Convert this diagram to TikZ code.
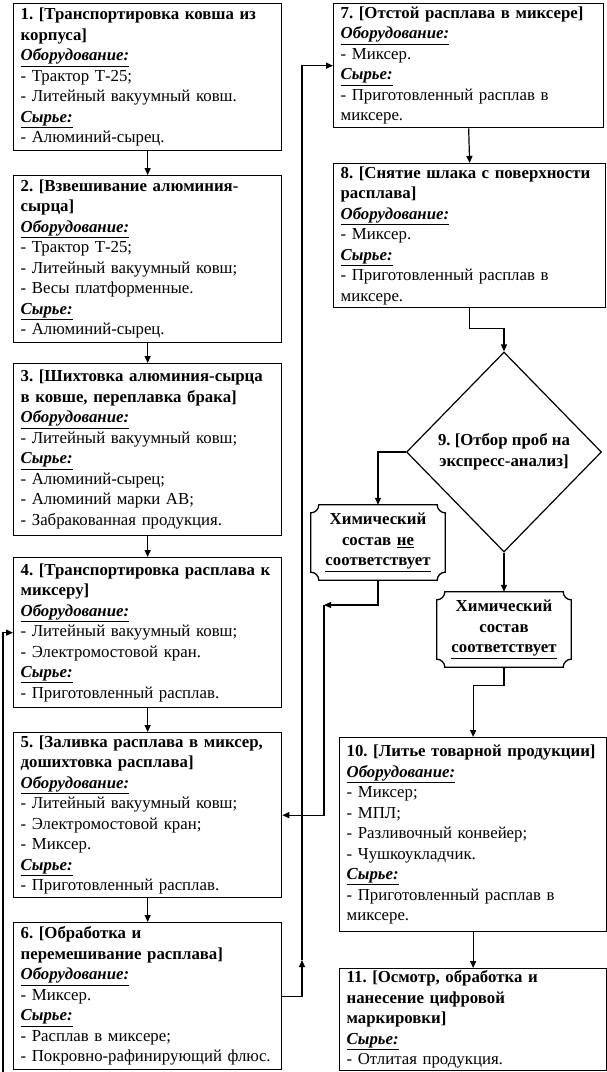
\documentclass[tikz,border=0pt]{standalone}
\usepackage{fontspec}
\setmainfont{Liberation Serif}
\usetikzlibrary{arrows.meta,shapes.geometric,calc}
\frenchspacing
\newcommand{\eqp}{\underline{\textbf{\textit{Оборудование:}}}}
\newcommand{\rawm}{\underline{\textbf{\textit{Сырье:}}}}
\newcommand{\plaqueframe}[1]{\draw[line width=1.3pt] ([xshift=8pt]#1.north west) -- ([xshift=-8pt]#1.north east) arc[start angle=180,end angle=270,radius=8pt] -- ([yshift=8pt]#1.south east) arc[start angle=90,end angle=180,radius=8pt] -- ([xshift=8pt]#1.south west) arc[start angle=0,end angle=90,radius=8pt] -- ([yshift=-8pt]#1.north west) arc[start angle=270,end angle=360,radius=8pt] -- cycle;}
\begin{document}
\begin{tikzpicture}[x=1pt,y=1pt,
  txt/.style={font=\frenchspacing\fontsize{16.8}{20.5}\selectfont},
  box/.style={txt, draw, line width=1.3pt, anchor=north west, align=left, inner xsep=7pt, inner ysep=0pt},
  plq/.style={font=\frenchspacing\bfseries\fontsize{16.8}{20.5}\selectfont, align=center, inner sep=0pt, text width=130pt, minimum width=134pt, minimum height=75pt},
  arr/.style={line width=1.2pt, -{Triangle[length=7pt,width=6pt]}}]
\useasboundingbox (0,0) rectangle (607,-1072);

\node[box, text width=254pt, minimum height=147pt] (b1) at (13,-3) {\textbf{1. [Транспортировка ковша из}\\ \textbf{корпуса]}\\ \eqp\\ - Трактор Т-25;\\ - Литейный вакуумный ковш.\\ \rawm\\ - Алюминий-сырец.};
\node[box, text width=254pt, minimum height=167pt] (b2) at (13,-175) {\textbf{2. [Взвешивание алюминия-}\\ \textbf{сырца]}\\ \eqp\\ - Трактор Т-25;\\ - Литейный вакуумный ковш;\\ - Весы платформенные.\\ \rawm\\ - Алюминий-сырец.};
\node[box, text width=254pt, minimum height=172pt] (b3) at (13,-363) {\textbf{3. [Шихтовка алюминия-сырца}\\ \textbf{в ковше, переплавка брака]}\\ \eqp\\ - Литейный вакуумный ковш;\\ \rawm\\ - Алюминий-сырец;\\ - Алюминий марки АВ;\\ - Забракованная продукция.};
\node[box, text width=254pt, minimum height=150pt] (b4) at (13,-557) {\textbf{4. [Транспортировка расплава к}\\ \textbf{миксеру]}\\ \eqp\\ - Литейный вакуумный ковш;\\ - Электромостовой кран.\\ \rawm\\ - Приготовленный расплав.};
\node[box, text width=254pt, minimum height=165pt] (b5) at (13,-732) {\textbf{5. [Заливка расплава в миксер,}\\ \textbf{дошихтовка расплава]}\\ \eqp\\ - Литейный вакуумный ковш;\\ - Электромостовой кран;\\ - Миксер.\\ \rawm\\ - Приготовленный расплав.};
\node[box, text width=254pt, minimum height=147pt] (b6) at (13,-922) {\textbf{6. [Обработка и}\\ \textbf{перемешивание расплава]}\\ \eqp\\ - Миксер.\\ \rawm\\ - Расплав в миксере;\\ - Покровно-рафинирующий флюс.};

\node[box, text width=256pt, minimum height=124pt] (b7) at (333,-3) {\textbf{7. [Отстой расплава в миксере]}\\ \eqp\\ - Миксер.\\ \rawm\\ - Приготовленный расплав в\\ миксере.};
\node[box, text width=258pt, minimum height=144pt] (b8) at (333,-163) {\textbf{8. [Снятие шлака с поверхности}\\ \textbf{расплава]}\\ \eqp\\ - Миксер.\\ \rawm\\ - Приготовленный расплав в\\ миксере.};

\node[draw, diamond, line width=1.2pt, minimum width=195pt, minimum height=200pt, inner sep=0pt, align=center, font=\frenchspacing\bfseries\fontsize{16.8}{20.5}\selectfont] (d) at (504,-452) {9. [Отбор проб на\\ экспресс-анализ]};

\node[plq] (no) at (378,-542.5) {Химический\\ состав \underline{не}\\ \underline{соответствует}};
\plaqueframe{no}
\node[plq] (yes) at (504,-629.5) {Химический\\ состав\\ \underline{соответствует}};
\plaqueframe{yes}

\node[box, text width=253pt, minimum height=194pt] (b10) at (339,-737) {\textbf{10. [Литье товарной продукции]}\\ \eqp\\ - Миксер;\\ - МПЛ;\\ - Разливочный конвейер;\\ - Чушкоукладчик.\\ \rawm\\ - Приготовленный расплав в\\ миксере.};
\node[box, text width=253pt, minimum height=102pt] (b11) at (339,-968) {\textbf{11. [Осмотр, обработка и}\\ \textbf{нанесение цифровой}\\ \textbf{маркировки]}\\ \rawm\\ - Отлитая продукция.};

\draw[arr] (b1.south) -- (b2.north);
\draw[arr] (b2.south) -- (b3.north);
\draw[arr] (b3.south) -- (b4.north);
\draw[arr] (b4.south) -- (b5.north);
\draw[arr] (b5.south) -- (b6.north);
\draw[arr] (b7.south) -- (b8.north);
\draw[arr] (b10.south) -- (b11.north);

\coordinate (c0) at (3,-1072);
\draw[arr] (c0) |- (b4.west);
\coordinate (c1) at (302,-960);
\draw[arr] (b6.east) -| (c1);
\draw[arr] (c1) |- (b7.west);

\draw[arr] (b8.south) -- ++(0,-20) -| (d.north);
\draw[arr] (d.west) -| (no.north);
\draw[arr] (d.south) -- (yes.north);
\draw[arr] (yes.south) -- ++(0,-18) -| (b10.north);

\coordinate (c2) at (324,-605);
\draw[arr] (no.south) |- (c2);
\draw[arr] (c2) |- (b5.east);
\end{tikzpicture}
\end{document}
